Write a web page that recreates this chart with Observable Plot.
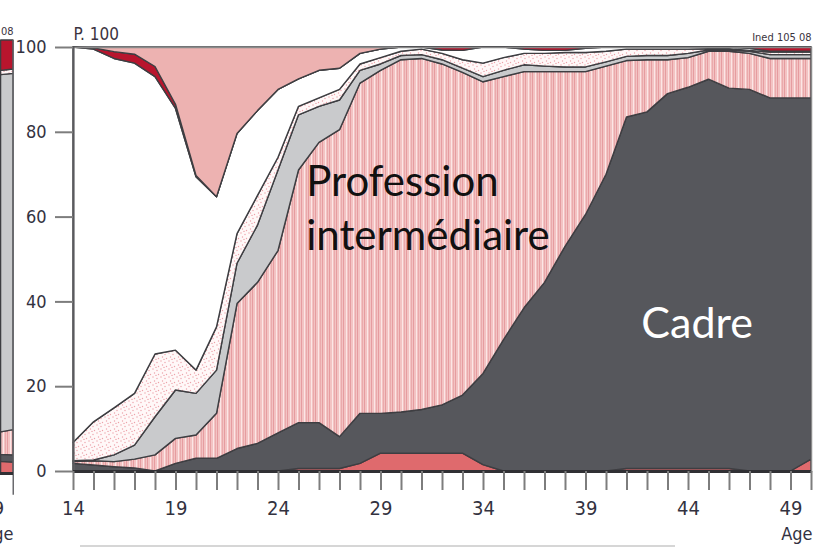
<!DOCTYPE html>
<html><head><meta charset="utf-8">
<script src="https://cdn.jsdelivr.net/npm/d3@7"></script>
<script src="https://cdn.jsdelivr.net/npm/@observablehq/plot@0.6"></script>
<style>
body{margin:0;background:#fff;width:820px;height:548px;overflow:hidden;position:relative}
#main{position:absolute;left:0;top:0}
#strip{position:absolute;left:0;top:0;width:14px;height:548px;overflow:hidden}
#strip svg{overflow:hidden}
#baseline{position:absolute;left:80px;top:545px;width:595px;height:2px;background:#d6d6d6}
[aria-label="y-axis tick"],[aria-label="x-axis tick"]{stroke:#7d7d7d}
</style></head><body>
<div id="main"></div><div id="strip"></div><div id="baseline"></div>
<script>
// ---- data (share of each category, %, by age) ----
const ages = [14,15,16,17,18,19,20,21,22,23,24,25,26,27,28,29,30,31,32,33,34,35,36,37,38,39,40,41,42,43,44,45,46,47,48,49,50];
const red       = [0,0,0,0,0,0,0,0,0,0,0, 0.6,0.6,0.6,1.8,4.2,4.2,4.2,4.2,4.2,1.5, 0,0,0,0,0,0,0.6,0.6,0.6,0.6, 0.6,0.6,0,0,0,2.8];
const cadre     = [1.8,1.4,1.0,0.7,0,1.8,3.0,3.0,5.3,6.5,9.0, 10.8,10.8,7.5,11.8,9.4,9.7,10.3,11.4,13.7,21.5, 31,38.5,44.5,53,60.5,70,82.9,84.1,88.4,89.9, 91.8,89.7,90,88,88,85.2];
const profInter = [0.4,1.0,1.2,2.1,3.8,5.9,5.5,10.6,34.2,38.0,43.0, 59.6,66.1,72.4,77.9,80.9,83.1,82.8,80.4,76.1,68.8, 62,55.7,49.7,41.2,33.7,25.5,13.3,12.3,8.0,7.0, 6.6,8.7,8.5,9.3,9.3,9.3];
const gray      = [0.2,0.2,1.6,3.3,9.0,11.4,9.8,10.2,9.5,13.5,19, 13,8.5,7,3,1.5,1,0.9,1,1,1.2, 1.5,1.6,1.3,1.1,1.1,1,1,1,1,1, 0.3,0.3,0.5,0.9,0.9,0.9];
const dotted    = [4.3,9.0,11.1,12.2,14.8,9.4,5.5,10.2,7,7,3, 2,2,2.5,1.5,1.5,1,1.3,1.5,2,3.2, 3,2.7,3,3.4,3.4,2.5,1.7,1.5,1.5,1, 0.3,0.3,0.2,0.6,0.6,0.6];
const white     = [93.3,87.9,82.4,77.9,65.4,57,45.6,30.7,23.6,20,16, 6.5,6.5,5,2.5,2,1,0.5,0.8,2.2,3.8, 2.5,1,0.7,0.5,1,1,0.5,0.5,0.5,0.5, 0.4,0.4,0.5,0.2,0.2,0.2];
const darkRed   = [0,0.3,1.6,2.1,2.4,1,0.3,0,0,0,0, 0,0,0,0,0,0,0,0.7,0.8,0, 0,0.5,0.8,0.8,0.3,0,0,0,0,0, 0,0,0.3,1,1,1];
const pink      = [0,0.2,1.1,1.7,4.6,13.5,30.3,35.3,20.4,15,10, 7.5,5.5,5,1.5,0.5,0,0,0,0,0, 0,0,0,0,0,0,0,0,0,0, 0,0,0,0,0,0];

// partial neighbouring chart at the left edge
const stripAges    = [49.4, 50];
const stripRed     = [2.7, 2.5];
const stripCadre   = [1.6, 1.7];
const stripProf    = [5.2, 5.8];
const stripGray    = [82.5, 82.3];
const stripDotted  = [1.0, 1.0];
const stripDarkRed = [7.0, 6.7];

const yTicks = [0, 20, 40, 60, 80, 100];
const xTickLabels = [14, 19, 24, 29, 34, 39, 44, 49];

const layerNames = ["red","cadre","profInter","gray","dotted","white","darkRed","pink"];
const layerFills = ["#df6a6d","#56575c","url(#stripes)","#c9cacc","url(#dots)","#ffffff","#b8152d","#edb2b1"];

const series = {red, cadre, profInter, gray, dotted, white, darkRed, pink};
const table = [];
for (const name of layerNames) series[name].forEach((v, i) => table.push({age: ages[i], layer: name, value: v}));

const stripSeries = {red: stripRed, cadre: stripCadre, profInter: stripProf, gray: stripGray, dotted: stripDotted, darkRed: stripDarkRed};
const stripTable = [];
for (const name of Object.keys(stripSeries)) stripSeries[name].forEach((v, i) => stripTable.push({age: stripAges[i], layer: name, value: v}));

const font = "'Liberation Sans Narrow','DejaVu Sans Condensed',sans-serif";
const textColor = "#33323f";

function addDefs(svg, suffix) {
  const defs = d3.select(svg).insert("defs", ":first-child");
  const s = defs.append("pattern").attr("id","stripes" + suffix).attr("patternUnits","userSpaceOnUse").attr("width",7).attr("height",10);
  s.append("rect").attr("width",7).attr("height",10).attr("fill","#f3c3c3");
  s.append("rect").attr("x",0).attr("width",1).attr("height",10).attr("fill","#e69ca0");
  s.append("rect").attr("x",3).attr("width",1).attr("height",10).attr("fill","#fce6e6");
  s.append("rect").attr("x",5).attr("width",1).attr("height",10).attr("fill","#eaaaac");
  const d = defs.append("pattern").attr("id","dots" + suffix).attr("patternUnits","userSpaceOnUse").attr("width",8).attr("height",8);
  d.append("rect").attr("width",8).attr("height",8).attr("fill","#fff8f8");
  for (const [cx, cy] of [[1,1],[5,2.5],[2.5,5],[6.5,6.5],[4,7.5]]) d.append("circle").attr("cx",cx).attr("cy",cy).attr("r",0.7).attr("fill","#eda2aa");
}

const main = Plot.plot({
  width: 820, height: 548,
  marginLeft: 73, marginRight: 9, marginTop: 47, marginBottom: 77,
  style: {fontFamily: font, background: "transparent"},
  x: {domain: [14, 50]},
  y: {domain: [0, 100]},
  color: {type: "ordinal", domain: layerNames, range: layerFills},
  marks: [
    Plot.areaY(table, {x: "age", y: "value", fill: "layer", order: layerNames, stroke: "#3e3e42", strokeWidth: 1.4, strokeLinejoin: "round"}),
    Plot.frame({stroke: "#8a8a8a", strokeWidth: 1.5}),
    Plot.ruleX([14], {stroke: "#5a5a5e", strokeWidth: 2}),
    Plot.ruleY([0], {stroke: "#303034", strokeWidth: 3}),
    Plot.axisY({ticks: yTicks, tickSize: 18, tickPadding: 9, fontSize: 18, color: textColor, strokeWidth: 2, label: null}),
    Plot.axisX({ticks: ages, tickSize: 19, tickPadding: 10, fontSize: 20, color: textColor, strokeWidth: 2, label: null,
      tickFormat: d => xTickLabels.includes(d) ? String(d) : ""}),
    Plot.text(["P. 100"], {frameAnchor: "top-left", lineAnchor: "middle", dy: -13, textAnchor: "start", fontSize: 17, fill: "#3b3340"}),
    Plot.text(["Ined 105 08"], {frameAnchor: "top-right", lineAnchor: "middle", dy: -10, textAnchor: "end", fontSize: 11, fill: "#3b3340"}),
    Plot.text(["Age"], {frameAnchor: "bottom-right", lineAnchor: "bottom", dy: 68, dx: 1, textAnchor: "end", fontSize: 18, fill: textColor}),
    Plot.text(["Profession"], {x: 25.35, y: 65.0, textAnchor: "start", lineAnchor: "bottom", fontFamily: "Lato", fontSize: 42, fill: "#111"}),
    Plot.text(["intermédiaire"], {x: 25.35, y: 52.2, textAnchor: "start", lineAnchor: "bottom", fontFamily: "Lato", fontSize: 42, fill: "#111"}),
    Plot.text(["Cadre"], {x: 41.7, y: 31.4, textAnchor: "start", lineAnchor: "bottom", fontFamily: "Lato", fontSize: 43, fill: "#ffffff"})
  ]
});
addDefs(main, "");
document.getElementById("main").append(main);

const strip = Plot.plot({
  width: 14, height: 548,
  marginLeft: 0, marginRight: 1, marginTop: 40, marginBottom: 75,
  style: {fontFamily: font, background: "transparent", overflow: "hidden"},
  x: {domain: [49.37, 50], axis: null},
  y: {domain: [0, 100], axis: null},
  color: {type: "ordinal", domain: layerNames, range: layerFills.map(f => f.replace(")", "2)"))},
  marks: [
    Plot.areaY(stripTable, {x: "age", y: "value", fill: "layer", order: layerNames, stroke: "#3e3e42", strokeWidth: 1.3}),
    Plot.ruleX([50], {stroke: "#6a6a6e", strokeWidth: 2, y1: -5, y2: 100}),
    Plot.ruleY([0], {stroke: "#303034", strokeWidth: 3}),
    Plot.text(["49"], {x: 49, frameAnchor: "bottom", lineAnchor: "middle", dy: 35, fontSize: 20, fill: textColor}),
    Plot.text(["Age"], {frameAnchor: "bottom-right", lineAnchor: "bottom", dy: 66, textAnchor: "end", fontSize: 18, fill: textColor}),
    Plot.text(["Ined 105 08"], {frameAnchor: "top-right", lineAnchor: "middle", dy: -9, textAnchor: "end", fontSize: 11, fill: "#3b3340"})
  ]
});
addDefs(strip, "2");
document.getElementById("strip").append(strip);
</script>
</body></html>
